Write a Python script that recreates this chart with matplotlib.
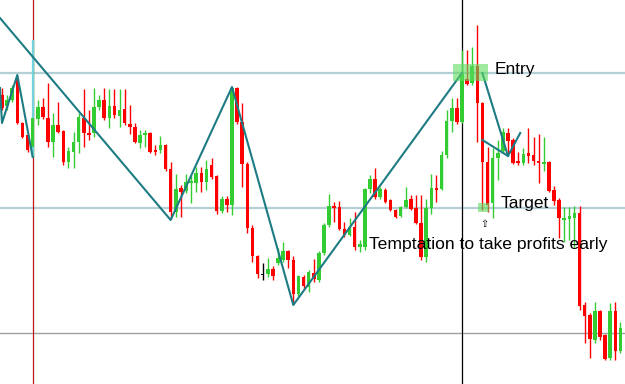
import matplotlib
matplotlib.use("Agg")
import matplotlib.pyplot as plt
import numpy as np

# chart levels (screen-style scale, larger = lower)
opens = [95, 106, 100, 78, 123, 135, 147, 119, 107, 118, 142, 125, 131, 162, 152, 142, 118, 133, 133, 107,
         100, 118, 106, 116, 109, 124, 127, 143, 135, 133, 150, 150, 145, 169, 212, 188, 191, 183, 183, 173,
         182, 165, 176, 211, 199, 205, 88, 122, 164, 228, 256, 274, 274, 269, 263, 260, 251, 260, 294, 277,
         287, 273, 280, 253, 225, 206, 207, 229, 235, 227, 247, 247, 189, 179, 197, 190, 200, 210, 216, 207,
         199, 208, 223, 257, 208, 188, 189, 155, 121, 108, 122, 79, 83, 66, 103, 162, 203, 158, 151, 133,
         140, 161, 163, 153, 155, 161, 164, 162, 190, 200, 220, 219, 218, 213, 305, 315, 340, 311, 335, 358,
         311, 351]
highs = [88, 95, 85, 76, 122, 134, 40, 100, 98, 83, 113, 102, 130, 147, 132, 113, 89, 110, 88, 95,
         88, 89, 89, 89, 89, 105, 123, 130, 130, 132, 145, 136, 144, 162, 174, 185, 174, 175, 167, 167,
         160, 158, 175, 196, 196, 87, 87, 103, 162, 225, 255, 263, 258, 266, 248, 242, 250, 256, 275, 275,
         270, 259, 251, 223, 194, 202, 201, 222, 218, 212, 240, 188, 175, 168, 187, 188, 199, 209, 206, 187,
         195, 195, 195, 199, 174, 175, 151, 110, 98, 98, 50, 50, 47, 25, 102, 147, 148, 140, 128, 128,
         138, 152, 148, 128, 137, 134, 137, 161, 186, 198, 207, 207, 206, 206, 302, 313, 302, 310, 334, 303,
         302, 322]
lows = [110, 110, 102, 124, 138, 152, 157, 125, 119, 147, 157, 133, 165, 168, 168, 153, 147, 140, 137, 110,
        120, 128, 118, 127, 125, 134, 143, 148, 147, 153, 155, 153, 171, 218, 217, 217, 193, 203, 192, 192,
        190, 179, 214, 213, 212, 215, 124, 187, 233, 262, 278, 280, 277, 280, 265, 262, 268, 304, 296, 289,
        292, 282, 282, 255, 227, 222, 230, 237, 236, 250, 252, 250, 193, 199, 199, 203, 211, 218, 217, 208,
        210, 224, 260, 262, 214, 202, 190, 158, 132, 124, 123, 85, 85, 142, 210, 212, 218, 180, 153, 153,
        164, 165, 165, 163, 165, 183, 171, 192, 205, 238, 242, 240, 247, 310, 343, 358, 343, 340, 360, 360,
        360, 353]
closes = [108, 100, 88, 123, 137, 150, 118, 107, 117, 142, 125, 132, 162, 151, 142, 117, 133, 135, 107, 100,
          118, 106, 115, 110, 123, 127, 142, 135, 133, 152, 152, 145, 169, 212, 189, 192, 182, 181, 173, 182,
          169, 177, 211, 199, 205, 88, 122, 164, 228, 256, 274, 274, 269, 276, 258, 251, 260, 294, 276, 286,
          272, 279, 253, 225, 206, 208, 229, 235, 227, 247, 244, 189, 179, 197, 189, 202, 210, 217, 207, 200,
          209, 223, 257, 208, 188, 190, 155, 121, 108, 122, 74, 84, 66, 103, 162, 205, 158, 153, 132, 141,
          163, 163, 154, 156, 161, 163, 162, 191, 201, 218, 218, 216, 213, 306, 316, 339, 311, 337, 359, 311,
          351, 328]

# trend lines drawn on the chart (candle index, level)
zig_x = [-0.4, 33, 45, 57, 90]
zig_y = [18, 220, 87, 305, 73]
small_zig_x = [-0.4, 0, 3, 6]
small_zig_y = [88, 123, 75, 157]
drop_x = [94, 99]
drop_y = [73, 156]
retest_x = [94, 99, 101.4]
retest_y = [140, 156, 133]

entry_level = 73
target_level = 208
low_level = 333
marker_candles = [6, 90]

n = len(opens)
x = np.arange(n)
o = np.array(opens)
c = np.array(closes)

red = "#ff0000"
green = "#33cc33"
colors = []
for a, b in zip(o, c):
    if a == b:
        colors.append("black")
    elif b < a:
        colors.append(green)
    else:
        colors.append(red)

fig = plt.figure(figsize=(6.25, 3.84), dpi=100)
ax = fig.add_axes([0, 0, 1, 1])
ax.set_xlim(-0.39, 121.9)
ax.set_ylim(384, 0)
ax.axis("off")

# horizontal levels
ax.axhline(entry_level, color="#b4d0d6", lw=1.6, zorder=1)
ax.axhline(target_level, color="#b4d0d6", lw=1.6, zorder=1)
ax.axhline(low_level, color="#a0a0a0", lw=1.0, zorder=1)

# vertical markers
ax.axvline(marker_candles[0], color="#c01818", lw=0.9, zorder=1)
ax.axvline(marker_candles[1], color="black", lw=0.9, zorder=1)

# candles
ax.vlines(x, highs, lows, colors=colors, lw=1.0, zorder=2)
# highlighted wick on the first marker candle
i = marker_candles[0]
ax.vlines(i, highs[i], lows[i], colors="#74d2de", lw=1.6, zorder=2.5)
heights = np.maximum(np.abs(c - o), 1.2)
bottoms = np.minimum(o, c)
ax.bar(x, heights, bottom=bottoms, width=0.7, color=colors, linewidth=0, zorder=3)

# zigzag lines
teal = "#1d7c83"
ax.plot(zig_x, zig_y, color=teal, lw=1.5, zorder=4)
ax.plot(small_zig_x, small_zig_y, color=teal, lw=1.5, zorder=4)
ax.plot(drop_x, drop_y, color=teal, lw=1.5, zorder=4)
ax.plot(retest_x, retest_y, color=teal, lw=1.5, zorder=4)

# entry / target zones
ax.add_patch(plt.Rectangle((88.3, 64), 6.8, 17, color="#5fdc5f", alpha=0.6, lw=0, zorder=5))
ax.add_patch(plt.Rectangle((93.2, 203), 2.1, 9, color="#5fdc5f", alpha=0.6, lw=0, zorder=5))

font = "Liberation Sans"
ax.text(96.3, 74, "Entry", fontsize=12.5, family=font, va="baseline", ha="left", zorder=6)
ax.text(97.5, 208, "Target", fontsize=12.5, family=font, va="baseline", ha="left", zorder=6)
ax.text(71.8, 249, "Temptation to take profits early", fontsize=12.6, family=font,
        va="baseline", ha="left", zorder=6)
ax.text(94.3, 224, "\u21e7", fontsize=7, family="DejaVu Sans", va="center", ha="center", zorder=6)

fig.savefig("out.png", dpi=100)
